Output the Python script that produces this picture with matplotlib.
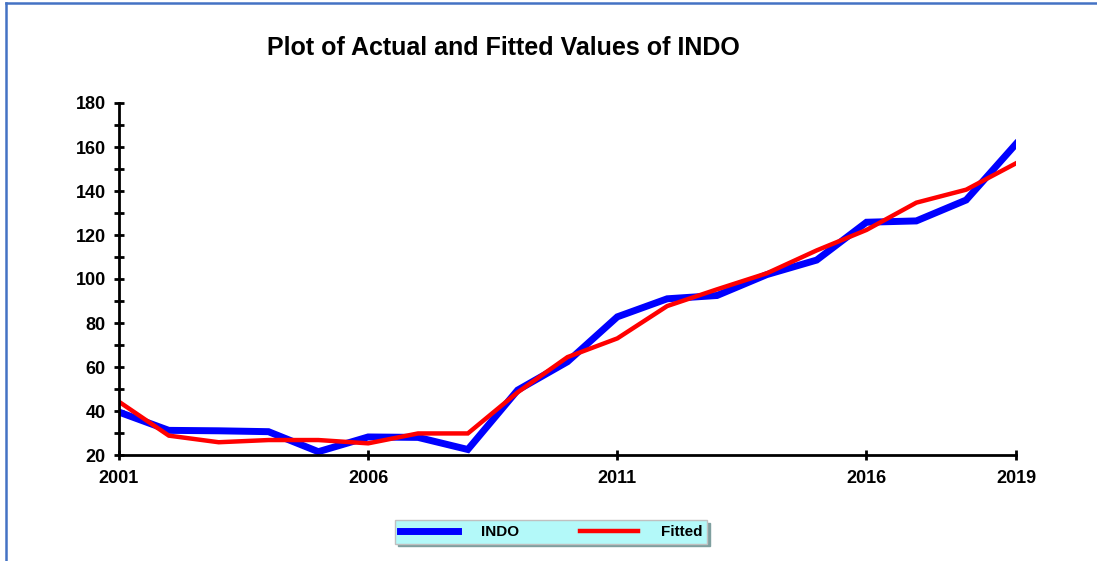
import matplotlib.pyplot as plt
from matplotlib.lines import Line2D

years = list(range(2001, 2020))
indo = [39.5, 31.2, 31.0, 30.6, 21.5, 28.2, 28.0, 22.5, 49.5, 62.4,
        82.8, 91.0, 92.5, 102.0, 108.6, 125.8, 126.4, 135.9, 161.4]
fitted = [44.2, 28.8, 25.8, 26.8, 26.8, 25.3, 29.8, 29.8, 48.5, 64.5,
          73.0, 87.7, 95.3, 102.6, 113.0, 122.3, 134.7, 140.6, 152.6]
xticks = [2001, 2006, 2011, 2016, 2019]
yticks = list(range(20, 181, 20))

plt.rcParams["font.family"] = ["Liberation Sans", "DejaVu Sans"]
plt.rcParams["font.weight"] = "bold"

fig = plt.figure(figsize=(10.97, 5.61), dpi=100)
ax = fig.add_axes([119 / 1097, 1 - 455 / 561, 897 / 1097, 352 / 561])

ax.plot(years, indo, color="#0000ff", lw=5, label="INDO", solid_joinstyle="miter")
ax.plot(years, fitted, color="#ff0000", lw=3.2, label="Fitted", solid_joinstyle="miter")

ax.set_xlim(2001, 2019)
ax.set_ylim(20, 180)
ax.set_xticks(xticks)
ax.set_yticks(yticks)
ax.set_yticks(range(30, 180, 20), minor=True)
ax.tick_params(axis="both", which="both", direction="inout", length=7, width=2,
               labelsize=13, colors="black")
ax.tick_params(axis="x", pad=7)
ax.tick_params(axis="y", pad=6)
for lab in ax.get_xticklabels() + ax.get_yticklabels():
    lab.set_fontweight("bold")

for side in ["top", "right"]:
    ax.spines[side].set_visible(False)
for side in ["left", "bottom"]:
    ax.spines[side].set_linewidth(2)
ax.patch.set_visible(False)

fig.text(503 / 1097, 1 - 48 / 561, "Plot of Actual and Fitted Values of INDO",
         ha="center", va="center", fontsize=18, fontweight="bold")

leg = fig.legend(loc="center", bbox_to_anchor=(551 / 1097, 1 - 532 / 561), ncol=2,
                 frameon=True, fancybox=False, shadow={"color": "#7f9f9f", "alpha": 1},
                 facecolor="#b3f9f9", edgecolor="#c0c0c0", framealpha=1,
                 handlelength=3.8, columnspacing=4.0, handletextpad=1.5,
                 borderpad=0.3, prop={"size": 11, "weight": "bold"})

# outer frame, only left and top edges are visible in the source
fx, fy = 5.5 / 1097, 1 - 3 / 561
fig.lines.append(Line2D([fx, fx], [0, fy], transform=fig.transFigure,
                        color="#4472c4", lw=1.8))
fig.lines.append(Line2D([fx, 1], [fy, fy], transform=fig.transFigure,
                        color="#4472c4", lw=1.8))

fig.savefig("out.png", dpi=100)
